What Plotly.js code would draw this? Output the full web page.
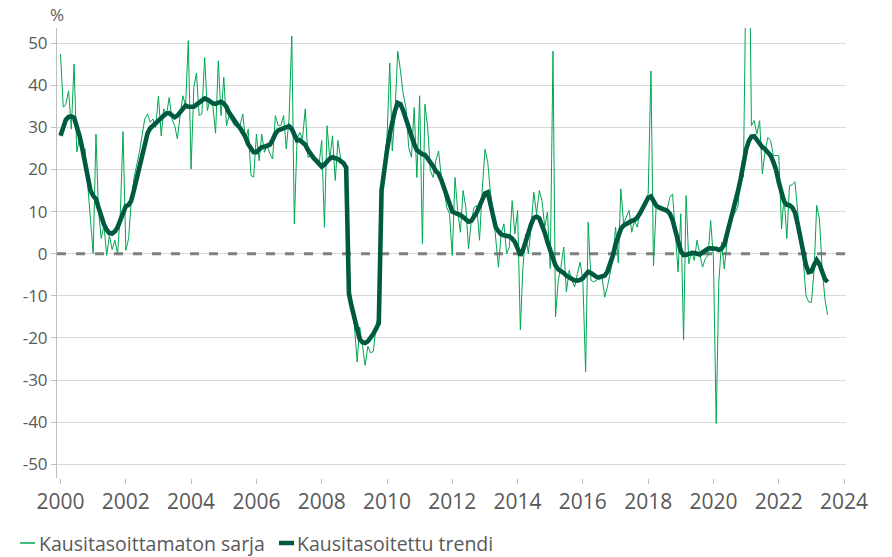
<!DOCTYPE html>
<html>
<head>
<meta charset="utf-8">
<script src="https://cdn.plot.ly/plotly-3.0.1.min.js"></script>
<style>
  html, body { margin: 0; padding: 0; background: #ffffff; }
  #chart { width: 892px; height: 557px; }
</style>
</head>
<body>
<div id="chart"></div>
<script>
// ---------------- DATA ----------------
const seriesNames = ['Kausitasoittamaton sarja', 'Kausitasoitettu trendi'];
const startYear = 2000; // monthly data, first value = January 2000
const yTickValues = [-50, -40, -30, -20, -10, 0, 10, 20, 30, 40, 50];
const yUnitLabel = '%';
const referenceLevel = 0; // dashed reference line

// Seasonally unadjusted series (monthly, %)
const raw = [
  47.4, 34.8, 35.5, 38.7, 29.6, 45.0, 24.2, 27.3, 23.7, 24.9, 16.2, 8.3,      // 2000
  0.0, 28.4, 10.3, 3.6, 6.7, -0.4, 4.3, 1.0, 3.2, 0.0, 9.9, 29.0,             // 2001
  0.8, 3.6, 12.0, 17.8, 20.9, 24.0, 28.0, 32.0, 33.2, 31.2, 32.0, 30.0,       // 2002
  37.4, 28.0, 34.4, 33.0, 37.1, 32.0, 30.5, 27.3, 33.0, 37.5, 35.2, 50.6,     // 2003
  20.1, 39.5, 42.9, 32.8, 33.2, 46.6, 34.0, 36.7, 35.0, 28.6, 45.8, 32.8,     // 2004
  41.9, 30.4, 32.8, 31.6, 30.4, 30.8, 30.4, 33.2, 26.9, 29.6, 18.6, 18.2,     // 2005
  28.4, 22.1, 28.4, 24.1, 25.7, 23.7, 22.5, 32.8, 30.4, 30.4, 32.8, 24.9,     // 2006
  32.0, 51.7, 7.1, 27.3, 28.8, 27.3, 34.4, 22.9, 23.3, 22.1, 22.5, 20.9,      // 2007
  26.9, 6.3, 30.4, 22.5, 28.0, 17.4, 26.9, 22.5, 20.9, 20.1, -2.8, -13.0,     // 2008
  -17.0, -25.7, -17.4, -21.7, -26.5, -22.0, -23.5, -23.2, -17.0, -14.5, 13.5, 22.0, // 2009
  27.6, 45.3, 24.4, 33.9, 48.1, 43.4, 37.9, 34.7, 25.2, 22.9, 34.7, 18.1,     // 2010
  37.5, 2.4, 35.5, 30.0, 19.7, 18.1, 22.1, 24.4, 18.1, 15.0, 11.0, 9.5,       // 2011
  -0.4, 18.1, 10.3, 5.1, 15.0, 11.0, 1.2, 7.9, 11.0, 11.4, 3.2, 15.0,         // 2012
  24.8, 21.7, 15.0, 10.3, 3.2, -3.2, 4.7, 7.1, 0.0, 1.6, 12.6, 4.7,           // 2013
  10.3, -18.1, -3.5, 4.7, 0.0, 6.3, 14.6, 9.5, 15.0, 12.6, 6.3, 9.9,          // 2014
  -3.5, 48.1, -15.0, -6.3, -3.2, 1.6, -9.1, -3.9, -6.3, -7.9, -4.7, -2.0,     // 2015
  -6.3, -28.0, 7.5, -6.3, -6.7, -6.3, -5.9, -5.1, -10.3, -7.9, -4.7, -1.6,    // 2016
  6.3, -2.2, 15.4, 7.1, 8.7, 10.3, 5.1, 7.9, 6.3, 10.3, 11.0, 12.6,           // 2017
  14.2, 43.4, -2.8, 11.8, 11.0, 11.0, 10.3, 10.6, 13.4, 14.2, 3.9, -4.3,      // 2018
  9.5, -20.5, 13.8, -2.4, 0.8, -1.6, 3.2, -0.4, -3.2, -1.2, -0.4, 7.9,        // 2019
  -1.2, -40.3, -6.7, 2.8, -3.6, 2.8, 6.7, 8.7, 9.9, 11.1, 20.1, 18.2,         // 2020
  70.0, 85.0, 30.4, 31.6, 28.4, 31.6, 19.0, 24.5, 27.6, 26.9, 23.3, 23.3,     // 2021
  23.3, 5.9, 13.8, 3.6, 16.2, 16.4, 17.1, 9.9, 4.7, -1.2, -9.9, -11.4,        // 2022
  -11.6, -3.6, 11.5, 8.3, -3.6, -10.7, -14.5                                  // 2023
];

// Seasonally adjusted trend (monthly, %)
const trend = [
  28.0, 30.3, 31.8, 32.5, 32.6, 32.3, 30.5, 28.0, 25.0, 21.5, 18.0, 15.0,     // 2000
  13.8, 13.0, 11.0, 8.8, 7.0, 5.7, 4.9, 4.8, 5.3, 6.3, 8.0, 10.3,             // 2001
  11.3, 11.6, 12.5, 15.0, 17.8, 20.6, 24.0, 26.8, 28.6, 29.8, 30.5, 31.0,     // 2002
  31.5, 32.2, 32.8, 33.3, 33.4, 32.9, 32.4, 32.8, 33.6, 34.6, 35.2, 34.9,     // 2003
  34.8, 34.9, 35.4, 36.0, 36.6, 36.9, 36.6, 36.0, 35.7, 35.6, 35.9, 36.1,     // 2004
  35.7, 34.8, 33.5, 32.4, 31.2, 30.6, 29.9, 28.9, 27.7, 26.0, 24.8, 24.1,     // 2005
  24.1, 24.6, 25.3, 25.4, 25.6, 25.9, 27.0, 28.5, 29.3, 29.6, 29.8, 30.0,     // 2006
  30.3, 29.6, 28.0, 26.9, 27.0, 26.6, 25.9, 24.6, 23.4, 22.8, 22.1, 21.4,     // 2007
  20.7, 21.2, 22.1, 22.6, 22.9, 22.7, 22.5, 22.0, 21.5, 20.5, -9.5, -12.5,    // 2008
  -15.5, -18.5, -20.3, -21.0, -21.2, -20.8, -20.0, -19.0, -17.8, -16.5, 15.0, 20.5, // 2009
  24.5, 28.5, 31.5, 34.0, 35.8, 35.5, 34.0, 31.8, 29.6, 27.4, 26.0, 24.6,     // 2010
  24.0, 23.6, 23.5, 22.7, 21.5, 20.8, 19.6, 19.0, 17.5, 15.8, 13.6, 11.7,     // 2011
  10.0, 9.7, 9.5, 9.2, 8.7, 8.1, 7.6, 7.8, 8.7, 9.8, 11.3, 13.0,              // 2012
  14.3, 14.6, 11.8, 9.0, 6.3, 5.3, 4.6, 4.4, 4.3, 4.1, 3.6, 2.8,              // 2013
  1.3, -0.4, 0.8, 3.0, 5.3, 7.0, 8.5, 8.8, 8.4, 6.8, 5.0, 2.8,                // 2014
  0.8, -1.0, -2.8, -3.7, -4.0, -4.6, -5.2, -5.7, -6.0, -6.3, -6.4, -6.2,      // 2015
  -5.8, -5.0, -4.3, -4.6, -5.2, -5.5, -5.6, -5.5, -5.2, -4.3, -2.6, -0.5,     // 2016
  2.2, 4.5, 5.9, 6.7, 7.1, 7.5, 7.8, 8.0, 8.6, 9.6, 10.8, 12.3,               // 2017
  13.3, 13.6, 12.3, 11.4, 11.0, 10.8, 10.5, 10.2, 9.5, 8.0, 5.5, 2.8,         // 2018
  0.6, -0.3, -0.3, 0.0, 0.2, 0.2, 0.0, -0.2, 0.3, 0.8, 1.2, 1.3,              // 2019
  1.3, 1.2, 0.9, 1.2, 2.2, 4.6, 6.8, 9.1, 11.8, 14.8, 17.8, 21.8,             // 2020
  24.8, 26.8, 27.8, 27.9, 27.0, 26.0, 25.3, 24.8, 24.0, 23.3, 21.8, 20.0,     // 2021
  17.0, 14.0, 12.4, 11.6, 11.5, 11.0, 9.8, 7.0, 3.2, 0.2, -2.7, -4.4,         // 2022
  -4.2, -2.6, -1.5, -2.5, -4.5, -6.0, -6.7                                    // 2023
];

// Month dates for each value (first of month)
const months = raw.map((_, i) => {
  const y = startYear + Math.floor(i / 12);
  const m = (i % 12) + 1;
  return y + '-' + String(m).padStart(2, '0') + '-01';
});

// ---------------- STYLE ----------------
const W = 892, H = 557;
const M = { l: 57, r: 46, t: 28, b: 79 };
const X_RANGE = ['1999-11-23', '2024-01-23'];
const FONT = "'Open Sans', 'Noto Sans', 'DejaVu Sans', sans-serif";
const TEXT = '#595959';
const RAW_COLOR = '#00a651';
const TREND_COLOR = '#005a41';
const plotW = W - M.l - M.r, plotH = H - M.t - M.b;
const px = x => (x - M.l) / plotW;          // pixel -> paper x
const py = y => (H - M.b - y) / plotH;      // pixel -> paper y

const traces = [
  { // dashed zero reference line across the whole plot, drawn under the series
    x: X_RANGE, y: [referenceLevel, referenceLevel], type: 'scatter', mode: 'lines',
    line: { color: '#7f7f7f', width: 3, dash: '9px,10px' }, hoverinfo: 'skip', cliponaxis: true
  },
  {
    x: months, y: raw, name: seriesNames[0], type: 'scatter', mode: 'lines',
    line: { color: RAW_COLOR, width: 1 }, hoverinfo: 'skip'
  },
  {
    x: months, y: trend, name: seriesNames[1], type: 'scatter', mode: 'lines',
    line: { color: TREND_COLOR, width: 4.6 }, hoverinfo: 'skip'
  }
];

const layout = {
  width: W, height: H,
  margin: { l: M.l, r: M.r, t: M.t, b: M.b, pad: 0 },
  paper_bgcolor: '#ffffff', plot_bgcolor: '#ffffff',
  showlegend: false,
  font: { family: FONT, size: 17, color: TEXT },
  xaxis: {
    type: 'date',
    range: X_RANGE,
    tick0: '2000-01-01', dtick: 'M24', tickformat: '%Y',
    ticks: 'outside', ticklen: 5, tickwidth: 1, tickcolor: '#bfbfbf',
    showgrid: false, zeroline: false, showline: false,
    tickfont: { family: FONT, size: 21, color: TEXT }
  },
  yaxis: {
    range: [-53.25, 53.6],
    tickvals: yTickValues,
    ticktext: yTickValues.map(v => String(v)),
    ticks: 'outside', ticklen: 5, tickwidth: 1, tickcolor: '#bfbfbf',
    showline: true, linecolor: '#bfbfbf', linewidth: 1,
    showgrid: true, gridcolor: '#d9d9d9', gridwidth: 1,
    zeroline: false,
    tickfont: { family: FONT, size: 17, color: TEXT }
  },
  shapes: [
    { type: 'line', xref: 'paper', yref: 'paper', x0: px(20), x1: px(35), y0: py(543), y1: py(543),
      line: { color: RAW_COLOR, width: 1.5 } },
    { type: 'line', xref: 'paper', yref: 'paper', x0: px(279), x1: px(294), y0: py(543), y1: py(543),
      line: { color: TREND_COLOR, width: 4.5 } }
  ],
  annotations: [
    { text: yUnitLabel, xref: 'paper', yref: 'paper', x: px(57), y: py(14),
      xanchor: 'center', yanchor: 'middle', showarrow: false,
      font: { family: FONT, size: 17, color: TEXT } },
    { text: seriesNames[0], xref: 'paper', yref: 'paper', x: px(37), y: py(543),
      xanchor: 'left', yanchor: 'middle', showarrow: false,
      font: { family: FONT, size: 19.5, color: TEXT } },
    { text: seriesNames[1], xref: 'paper', yref: 'paper', x: px(295), y: py(543),
      xanchor: 'left', yanchor: 'middle', showarrow: false,
      font: { family: FONT, size: 19.5, color: TEXT } }
  ]
};

Plotly.newPlot('chart', traces, layout, { displayModeBar: false, staticPlot: true });
</script>
</body>
</html>
